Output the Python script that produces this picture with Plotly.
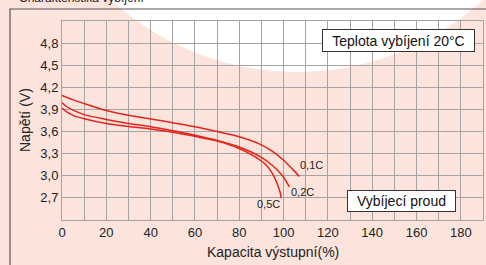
import plotly.graph_objects as go

# ---- data ----
x_01 = [0, 5, 10, 20, 30, 40, 50, 60, 70, 80, 90, 95, 100, 104, 107.1]
v_01 = [4.09, 4.03, 3.98, 3.885, 3.82, 3.77, 3.72, 3.665, 3.60, 3.53, 3.42, 3.33, 3.21, 3.09, 2.99]

x_02 = [0, 2, 5, 10, 20, 30, 40, 50, 60, 70, 80, 90, 95, 98, 100, 102.6]
v_02 = [3.99, 3.94, 3.89, 3.83, 3.765, 3.71, 3.665, 3.61, 3.55, 3.48, 3.39, 3.25, 3.14, 3.05, 2.98, 2.85]

x_05 = [0, 2, 5, 10, 20, 30, 40, 50, 60, 70, 80, 87, 92, 95, 97, 98.5, 98.9]
v_05 = [3.92, 3.87, 3.82, 3.775, 3.71, 3.67, 3.635, 3.59, 3.535, 3.47, 3.37, 3.26, 3.15, 3.03, 2.9, 2.77, 2.70]

curve_labels = ["0,1C", "0,2C", "0,5C"]
label_x = [112.7, 108.6, 93.3]
label_v = [3.147, 2.782, 2.62]

x_ticks = [0, 20, 40, 60, 80, 100, 120, 140, 160, 180]
y_ticks = [2.7, 3.0, 3.3, 3.6, 3.9, 4.2, 4.5, 4.8]
y_ticktext = ["2,7", "3,0", "3,3", "3,6", "3,9", "4,2", "4,5", "4,8"]

title_text = "Charakteristika vybíjení"
x_title = "Kapacita výstupní(%)"
y_title = "Napětí (V)"
temp_box = "Teplota vybíjení 20°C"
current_box = "Vybíjecí proud"

# ---- style ----
FONT = "Liberation Sans, Arial, sans-serif"
RED = "#e3241b"
GRID = "#a3a3a3"
PINK = "#fce4dc"
W, H = 486, 265
ML, MR, MT, MB = 62, 3, 21, 45
PW, PH = W - ML - MR, H - MT - MB


def px_x(p):
    return (p - ML) / PW


def px_y(p):
    return (H - MB - p) / PH


fig = go.Figure()
for xs, vs in [(x_01, v_01), (x_02, v_02), (x_05, v_05)]:
    fig.add_trace(go.Scatter(x=xs, y=vs, mode="lines",
                             line=dict(color=RED, width=1.5, shape="spline", smoothing=0.8),
                             showlegend=False, hoverinfo="skip"))

annotations = []
for t, lx, lv in zip(curve_labels, label_x, label_v):
    annotations.append(dict(x=lx, y=lv, xref="x", yref="y", text=t, showarrow=False,
                            xanchor="center", yanchor="middle",
                            font=dict(family=FONT, size=11, color="#222")))

annotations += [
    dict(x=px_x(17), y=px_y(7), xref="paper", yref="paper", xanchor="left", yanchor="bottom",
         text=title_text, showarrow=False, font=dict(family=FONT, size=12, color="#222")),
    dict(x=px_x(273), y=px_y(252), xref="paper", yref="paper", text=x_title, showarrow=False,
         xanchor="center", yanchor="middle", font=dict(family=FONT, size=14, color="#222")),
    dict(x=px_x(25), y=px_y(120), xref="paper", yref="paper", text=y_title, showarrow=False,
         xanchor="center", yanchor="middle",
         textangle=-90, font=dict(family=FONT, size=14, color="#222")),
    dict(x=px_x(398.5), y=px_y(40.5), xref="paper", yref="paper", text=temp_box, showarrow=False,
         xanchor="center", yanchor="middle",
         width=151, height=21, borderpad=0, borderwidth=1, bordercolor="#333", bgcolor="white",
         font=dict(family=FONT, size=14, color="#111")),
    dict(x=px_x(401.5), y=px_y(201), xref="paper", yref="paper", text=current_box, showarrow=False,
         xanchor="center", yanchor="middle",
         width=107, height=20, borderpad=0, borderwidth=1, bordercolor="#333", bgcolor="white",
         font=dict(family=FONT, size=14, color="#111")),
]

# white disc behind the chart and the outer frame
R = 277
cx, cy = 297, -205
shapes = [
    dict(type="circle", xref="paper", yref="paper", layer="below",
         x0=px_x(cx - R), x1=px_x(cx + R), y0=px_y(cy + R), y1=px_y(cy - R),
         fillcolor="white", line=dict(width=0)),
    dict(type="rect", xref="paper", yref="paper", layer="below",
         x0=px_x(10), x1=px_x(520), y0=px_y(300), y1=px_y(9),
         fillcolor="rgba(0,0,0,0)", line=dict(color="#555", width=1.2)),
]

fig.update_layout(
    width=W, height=H,
    margin=dict(l=ML, r=MR, t=MT, b=MB, autoexpand=False),
    paper_bgcolor=PINK, plot_bgcolor="rgba(0,0,0,0)",
    font=dict(family=FONT, size=13, color="#222"),
    annotations=annotations, shapes=shapes,
)
fig.update_xaxes(range=[0, 190], tickvals=x_ticks, showgrid=True, gridcolor=GRID, gridwidth=1,
                 minor=dict(dtick=10, tick0=0, showgrid=True, gridcolor=GRID, gridwidth=1),
                 showline=True, mirror=True, linecolor=GRID, linewidth=1, zeroline=False,
                 ticks="", tickfont=dict(size=13, family=FONT, color="#222"))
fig.update_yaxes(range=[2.4, 5.1], tickvals=y_ticks, ticktext=y_ticktext, showgrid=True,
                 gridcolor=GRID, gridwidth=1, showline=True, mirror=True, linecolor=GRID,
                 linewidth=1, zeroline=False, ticks="",
                 tickfont=dict(size=13, family=FONT, color="#222"))

fig.write_html("out.html", config={"displayModeBar": False},
               post_script="document.body.style.margin='0';document.body.style.padding='0';")
